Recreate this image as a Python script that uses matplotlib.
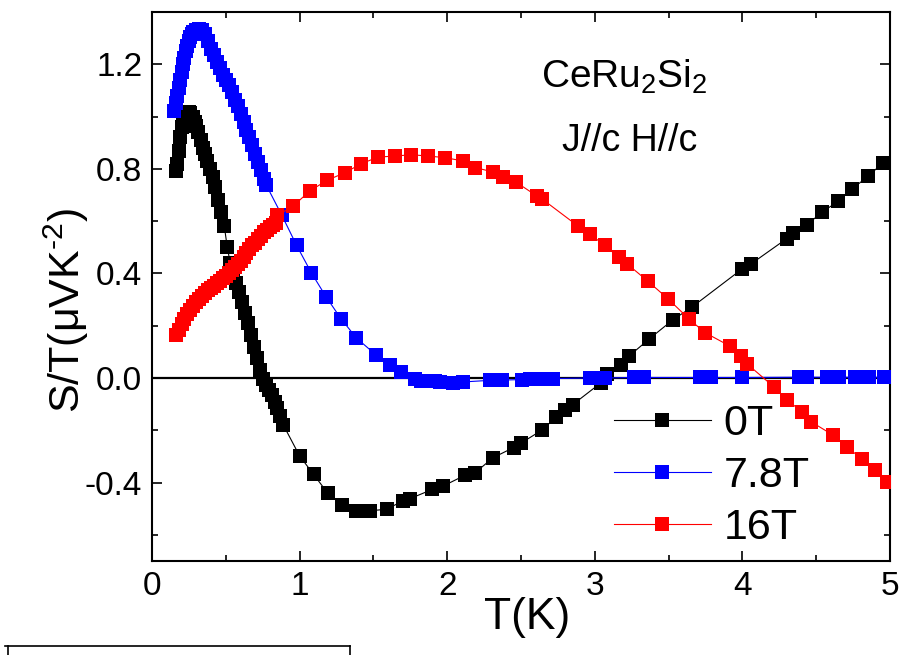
import matplotlib
matplotlib.use("Agg")
import matplotlib.pyplot as plt
from matplotlib.lines import Line2D
from matplotlib.ticker import MultipleLocator

plt.rcParams['font.family'] = ['Liberation Sans', 'DejaVu Sans']
plt.rcParams['mathtext.fontset'] = 'custom'
plt.rcParams['mathtext.rm'] = 'Liberation Sans'
plt.rcParams['mathtext.it'] = 'Liberation Sans'
plt.rcParams['mathtext.default'] = 'regular'

# ---- data: 0 T ----
t_0T = [0.16, 0.17, 0.18, 0.19, 0.20, 0.21, 0.22, 0.235, 0.25, 0.26, 0.275, 0.29, 0.30, 0.315,
        0.33, 0.345, 0.36, 0.375, 0.39, 0.41, 0.43, 0.45, 0.47, 0.49, 0.51, 0.53, 0.55, 0.57,
        0.59, 0.61, 0.63, 0.65, 0.67, 0.69, 0.71, 0.73, 0.75, 0.77, 0.79, 0.81, 0.83, 0.85,
        0.87, 0.89, 1.00, 1.095, 1.19, 1.29, 1.38, 1.475, 1.59, 1.70, 1.75, 1.90, 1.97, 2.12,
        2.19, 2.31, 2.45, 2.50, 2.64, 2.74, 2.80, 2.85, 3.04, 3.08, 3.18, 3.23, 3.37, 3.53,
        3.66, 4.00, 4.055, 4.30, 4.345, 4.44, 4.54, 4.65, 4.745, 4.85, 4.95]
s_0T = [0.79, 0.82, 0.87, 0.92, 0.96, 0.99, 1.005, 1.015, 1.017, 1.015, 1.00, 0.98, 0.965, 0.94,
        0.91, 0.88, 0.855, 0.83, 0.80, 0.77, 0.73, 0.68, 0.635, 0.58, 0.50, 0.44, 0.40, 0.365,
        0.33, 0.29, 0.25, 0.21, 0.165, 0.12, 0.075, 0.03, -0.005, -0.025, -0.045, -0.065, -0.09, -0.115,
        -0.145, -0.18, -0.298, -0.369, -0.44, -0.484, -0.508, -0.508, -0.502, -0.47, -0.461, -0.426, -0.414, -0.372,
        -0.362, -0.305, -0.266, -0.249, -0.20, -0.149, -0.121, -0.102, -0.019, 0.017, 0.049, 0.083, 0.15, 0.223,
        0.272, 0.418, 0.435, 0.533, 0.555, 0.587, 0.635, 0.676, 0.724, 0.771, 0.822]

# ---- data: 7.8 T ----
t_78T = [0.15, 0.16, 0.17, 0.18, 0.19, 0.20, 0.21, 0.22, 0.23, 0.24, 0.25, 0.26, 0.27, 0.28,
         0.30, 0.32, 0.34, 0.36, 0.38, 0.40, 0.42, 0.44, 0.46, 0.48, 0.50, 0.52, 0.54, 0.56,
         0.58, 0.60, 0.62, 0.64, 0.66, 0.68, 0.70, 0.72, 0.74, 0.76, 0.775,
         0.88, 0.98, 1.08, 1.18, 1.28, 1.385, 1.52, 1.615, 1.69, 1.78, 1.825, 1.915, 1.95, 2.04,
         2.11, 2.29, 2.37, 2.505, 2.56, 2.62, 2.675, 2.72, 2.97, 3.025, 3.07, 3.265, 3.335, 3.715,
         3.785, 4.00, 4.385, 4.44, 4.575, 4.655, 4.76, 4.86, 4.96]
s_78T = [1.02, 1.05, 1.08, 1.11, 1.14, 1.17, 1.20, 1.225, 1.25, 1.27, 1.29, 1.305, 1.315, 1.325,
         1.333, 1.335, 1.33, 1.315, 1.29, 1.26, 1.235, 1.21, 1.185, 1.16, 1.14, 1.12, 1.095, 1.065,
         1.04, 1.01, 0.98, 0.95, 0.92, 0.89, 0.855, 0.825, 0.795, 0.76, 0.737,
         0.622, 0.507, 0.402, 0.31, 0.227, 0.153, 0.087, 0.049, 0.023, -0.002, -0.011, -0.011, -0.015, -0.018,
         -0.015, -0.009, -0.008, -0.006, -0.005, -0.004, -0.003, -0.002, 0.0, 0.0, 0.0, 0.002, 0.002, 0.002,
         0.002, 0.002, 0.003, 0.003, 0.003, 0.003, 0.003, 0.003, 0.003]

# ---- data: 16 T ----
t_16T = [0.16, 0.18, 0.20, 0.22, 0.24, 0.26, 0.28, 0.30, 0.32, 0.34, 0.36, 0.38, 0.40, 0.42,
         0.44, 0.46, 0.48, 0.50, 0.52, 0.54, 0.56, 0.58, 0.60, 0.62, 0.64, 0.66, 0.68, 0.70,
         0.72, 0.74, 0.76, 0.78, 0.80, 0.82, 0.84, 0.85,
         0.955, 1.068, 1.185, 1.306, 1.419, 1.532, 1.645, 1.758, 1.871, 1.984,
         2.109, 2.188, 2.312, 2.376, 2.464, 2.611, 2.64, 2.889, 2.969, 3.066,
         3.161, 3.218, 3.358, 3.494, 3.636, 3.745, 3.919, 3.99, 4.03, 4.213,
         4.304, 4.406, 4.467, 4.616, 4.707, 4.807, 4.897, 4.978]
s_16T = [0.165, 0.185, 0.205, 0.225, 0.243, 0.26, 0.276, 0.29, 0.303, 0.315, 0.325, 0.335, 0.344, 0.353,
         0.362, 0.372, 0.382, 0.392, 0.402, 0.413, 0.424, 0.436, 0.449, 0.463, 0.477, 0.492, 0.507, 0.515,
         0.53, 0.545, 0.557, 0.568, 0.576, 0.584, 0.592, 0.622,
         0.657, 0.715, 0.756, 0.785, 0.82, 0.845, 0.849, 0.854, 0.849, 0.843,
         0.83, 0.805, 0.788, 0.769, 0.75, 0.695, 0.686, 0.58, 0.55, 0.507,
         0.463, 0.437, 0.371, 0.304, 0.227, 0.174, 0.121, 0.085, 0.055, -0.034,
         -0.085, -0.13, -0.168, -0.219, -0.264, -0.308, -0.353, -0.398]

series_labels = ['0T', '7.8T', '16T']
series_colors = ['#000000', '#0000ff', '#ff0000']
ytick_values = [-0.4, 0.0, 0.4, 0.8, 1.2]
ytick_labels = ['-0.4', '0.0', '0.4', '0.8', '1.2']

fig = plt.figure(figsize=(9, 6.55), dpi=100)
ax = fig.add_axes([152/900, 94/655, 738/900, 549/655])

ax.axhline(0, color='black', lw=1.6, zorder=1)

handles = []
for t, s, lab, c in zip([t_0T, t_78T, t_16T], [s_0T, s_78T, s_16T], series_labels, series_colors):
    h, = ax.plot(t, s, '-', color=c, lw=0.8, marker='s', ms=9.4, mec=c, mew=0,
                 label=lab, zorder=3)
    handles.append(h)

ax.set_xlim(0, 5)
ax.set_ylim(-0.7, 1.4)
ax.xaxis.set_major_locator(MultipleLocator(1))
ax.xaxis.set_minor_locator(MultipleLocator(0.5))
ax.yaxis.set_minor_locator(MultipleLocator(0.2))
ax.set_yticks(ytick_values)
ax.set_yticklabels(ytick_labels)

ax.tick_params(which='both', direction='in', top=True, right=True, width=1.2)
ax.tick_params(which='major', length=7.5, labelsize=24, pad=7)
ax.tick_params(which='minor', length=4)
for sp in ax.spines.values():
    sp.set_linewidth(1.5)

ax.set_xlabel('T(K)', fontsize=32)
ax.set_ylabel(r'S/T(μVK$^{\text{-2}}$)', fontsize=31)
ax.xaxis.set_label_coords(0.508, -0.065)
ax.yaxis.set_label_coords(-0.082, 0.457)

fig.text(624/900, 1 - 88/655, 'CeRu$_2$Si$_2$', fontsize=28, ha='center', va='baseline')
fig.text(630/900, 1 - 150.7/655, 'J//c H//c', fontsize=27, ha='center', va='baseline')

leg = ax.legend(handles=handles, loc='upper left', bbox_to_anchor=(614/900, 1 - 404/655),
                bbox_transform=fig.transFigure, frameon=False, fontsize=31,
                handlelength=2.25, handletextpad=0.3, labelspacing=0.28,
                borderpad=0, borderaxespad=0, numpoints=1)

# partial frame fragment at the bottom-left edge of the image
fig.add_artist(Line2D([5/900, 350/900], [1 - 646/655, 1 - 646/655], color='black', lw=1.2,
                      transform=fig.transFigure))
fig.add_artist(Line2D([8/900, 8/900], [1 - 646/655, 0], color='black', lw=1.2,
                      transform=fig.transFigure))
fig.add_artist(Line2D([350/900, 350/900], [1 - 646/655, 0], color='black', lw=1.2,
                      transform=fig.transFigure))

fig.savefig('out.png', dpi=100)
